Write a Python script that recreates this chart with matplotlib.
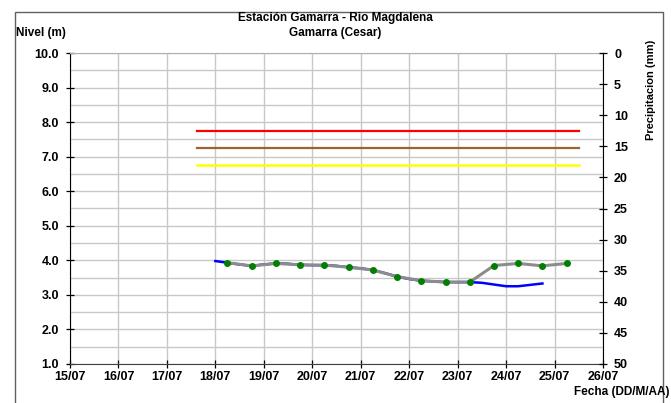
#!/usr/bin/env python3
# -*- coding: utf-8 -*-

import matplotlib
matplotlib.use("Agg")
import matplotlib.pyplot as plt
from matplotlib.patches import Rectangle

plt.rcParams["font.family"] = ["Liberation Sans", "DejaVu Sans"]
plt.rcParams["font.weight"] = "bold"

W, H = 671, 403

# day of July (fractional) and level in metres
nivel_dias = [18.0, 18.25, 18.5, 18.75, 19.0, 19.25, 19.5, 19.75, 20.0, 20.25,
              20.5, 20.75, 21.0, 21.25, 21.5, 21.75, 22.0, 22.25, 22.5, 22.75,
              23.0, 23.25, 23.5, 23.75, 24.0, 24.25, 24.5, 24.75]
nivel_obs = [3.98, 3.93, 3.88, 3.84, 3.88, 3.91, 3.90, 3.87, 3.86, 3.86,
             3.84, 3.80, 3.77, 3.72, 3.63, 3.53, 3.46, 3.41, 3.39, 3.37,
             3.37, 3.37, 3.35, 3.30, 3.25, 3.25, 3.29, 3.33]

pron_dias = [18.25, 18.75, 19.25, 19.75, 20.25, 20.75, 21.25, 21.75, 22.25,
             22.75, 23.25, 23.75, 24.25, 24.75, 25.25]
pron_nivel = [3.93, 3.84, 3.91, 3.87, 3.86, 3.80, 3.72, 3.53, 3.41,
              3.37, 3.37, 3.85, 3.91, 3.84, 3.91]

umbral_dias = [17.625, 25.5]
umbral_rojo = 7.75
umbral_naranja = 7.25
umbral_amarillo = 6.75

dias = list(range(15, 27))
dia_labels = ["%02d/07" % d for d in dias]

fig = plt.figure(figsize=(W / 100, H / 100), dpi=100)
ax = fig.add_axes([70 / W, 1 - 364 / H, 533 / W, 311 / H])

ax.set_xlim(15, 26)
ax.set_ylim(1.0, 10.0)
ax.set_xticks(dias)
ax.set_xticklabels(dia_labels)
ax.set_yticks([1.0 + i for i in range(10)])
ax.set_yticklabels(["%.1f" % (1.0 + i) for i in range(10)])
ax.set_yticks([1.5 + i for i in range(9)], minor=True)
ax.grid(True, which="both", color="#c8c8c8", linewidth=1.0)
ax.set_axisbelow(True)
ax.tick_params(axis="y", which="minor", length=0)
ax.tick_params(axis="both", which="major", direction="inout", length=6,
               labelsize=9, width=0.9)
ax.tick_params(axis="x", pad=2)
ax.tick_params(axis="y", pad=5)
for lab in ax.get_xticklabels() + ax.get_yticklabels():
    lab.set_fontweight("bold")

ax.spines["top"].set_color("#b0b0b0")
ax.spines["left"].set_color("black")
ax.spines["bottom"].set_color("#404040")
ax.spines["right"].set_visible(False)

ax.plot(umbral_dias, [umbral_rojo] * 2, color="#ff0000", linewidth=1.6)
ax.plot(umbral_dias, [umbral_naranja] * 2, color="#a0622d", linewidth=1.6)
ax.plot(umbral_dias, [umbral_amarillo] * 2, color="#ffff00", linewidth=1.8)

ax.plot(nivel_dias, nivel_obs, color="#0000ff", linewidth=1.8,
        solid_joinstyle="round", zorder=3)
ax.plot(pron_dias, pron_nivel, color="#8c8c8c", linewidth=2.2,
        solid_joinstyle="round", solid_capstyle="round", zorder=4)
ax.plot(pron_dias, pron_nivel, linestyle="none", marker="o", markersize=4,
        color="#008000", zorder=5)

ax2 = ax.twinx()
ax2.set_ylim(50, 0)
ax2.set_yticks(list(range(0, 51, 5)))
ax2.tick_params(axis="y", direction="inout", length=6, labelsize=9, width=0.9,
                pad=5)
for lab in ax2.get_yticklabels():
    lab.set_fontweight("bold")
ax2.spines["right"].set_color("black")
for s in ["top", "left", "bottom"]:
    ax2.spines[s].set_visible(False)

fig.text(335 / W, 1 - 18 / H, "Estación Gamarra - Rio Magdalena",
         ha="center", va="center", fontsize=8.5, fontweight="bold")
fig.text(335 / W, 1 - 33 / H, "Gamarra (Cesar)",
         ha="center", va="center", fontsize=8.5, fontweight="bold")
fig.text(16 / W, 1 - 33 / H, "Nivel (m)", ha="left", va="center",
         fontsize=8.5, fontweight="bold")
fig.text(669 / W, 1 - 392 / H, "Fecha (DD/M/AA)", ha="right", va="center",
         fontsize=8.5, fontweight="bold")
fig.text(651 / W, 1 - 90 / H, "Precipitacion (mm)", ha="center", va="center",
         rotation=90, fontsize=8, fontweight="bold")

fig.patches.append(Rectangle((15 / W, -0.05), 648 / W, 1 - 12 / H + 0.05,
                             transform=fig.transFigure, fill=False,
                             edgecolor="#606060", linewidth=1.0))

fig.savefig("out.png", dpi=100)
